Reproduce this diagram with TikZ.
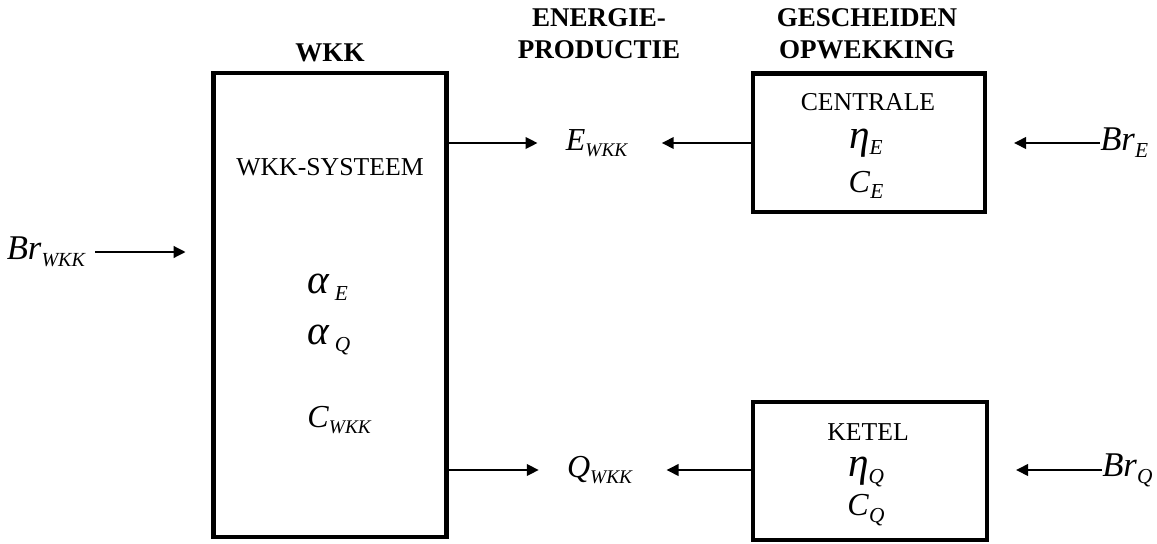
\documentclass[tikz,border=0pt]{standalone}
\usepackage{fontspec}
\setmainfont{Liberation Serif}
\usepackage{tikz}
\usetikzlibrary{arrows.meta,positioning,calc}
\newcommand{\qsym}[3][14.5]{\textit{#2}\raisebox{-0.45ex}{\fontsize{#1}{#1}\selectfont\textit{#3}}}
\newcommand{\gsym}[1]{{\fontsize{31}{31}\selectfont\textit{#1}}}

\begin{document}
\begin{tikzpicture}[x=0.75pt,y=-0.75pt,
    sysbox/.style={draw,line width=3.5pt,minimum width=174pt,minimum height=104pt,inner sep=0pt},
    head/.style={font=\bfseries\fontsize{20.3}{24}\selectfont,align=center},
    lbl/.style={font=\fontsize{19.3}{22}\selectfont,inner sep=0pt},
    var/.style={font=\fontsize{24}{26}\selectfont,inner sep=0pt},
    flow/.style={-{Triangle[length=9pt,width=8.5pt]},line width=2pt}]
  \useasboundingbox (0,0) rectangle (1157,543);
  % blokken
  \node[sysbox,minimum width=175pt,minimum height=348pt] (wkk) at (330,305) {};
  \node[sysbox] (centrale) at (869,142.5) {};
  \node[sysbox,minimum width=175.5pt,minimum height=103.5pt] (ketel) at (870,471) {};
  % koppen
  \node[head] (hwkk) at (330,53) {WKK};
  \node[head] (hprod) at (599,34) {ENERGIE-\\PRODUCTIE};
  \node[head] (hgesch) at (867,34) {GESCHEIDEN\\OPWEKKING};
  % inhoud WKK
  \node[lbl] (wkksys) at (330,167) {WKK-SYSTEEM};
  \node[var,anchor=west] (alphae) at (307,287) {\gsym{α}\,\qsym[16]{}{E}};
  \node[var,anchor=west] (alphaq) at (307,340) {\gsym{α}\,\qsym[16]{}{Q}};
  \node[var,anchor=west] (cwkk) at (307,420) {\qsym{C}{WKK}};
  % inhoud centrale en ketel
  \node[lbl] (centr) at (868,102) {CENTRALE};
  \node[var] (etae) at (866,143) {\gsym{η}\qsym[16]{}{E}};
  \node[var] (ce) at (866,185) {\qsym[16]{C}{E}};
  \node[lbl] (ket) at (868,432) {KETEL};
  \node[var] (etaq) at (866,472) {\gsym{η}\qsym[16]{}{Q}};
  \node[var] (cq) at (866,510) {\qsym[16]{C}{Q}};
  % energiestromen
  \node[var] (ewkk) at (597,143) {\qsym{E}{WKK}};
  \node[var] (qwkk) at (600,470) {\qsym{Q}{WKK}};
  \node[var,font=\fontsize{26}{27}\selectfont,anchor=east] (brwkk) at (86,252) {\qsym[15]{Br}{WKK}};
  \node[var,font=\fontsize{26}{27}\selectfont,anchor=west] (bre) at (1100,143) {\qsym[16]{Br}{E}};
  \node[var,font=\fontsize{26}{27}\selectfont,anchor=west] (brq) at (1102,470) {\qsym[16]{Br}{Q}};
  \draw[flow,shorten <=7pt,shorten >=19pt] (brwkk.east) -- (brwkk.east -| wkk.west);
  \draw[flow,shorten >=21pt] (wkk.east |- ewkk) -- (ewkk.west);
  \draw[flow,shorten >=25pt] (centrale.west |- ewkk) -- (ewkk.east);
  \draw[flow,shorten >=20pt] (bre.west) -- (bre.west -| centrale.east);
  \draw[flow,shorten >=21pt] (wkk.east |- qwkk) -- (qwkk.west);
  \draw[flow,shorten >=25pt] (ketel.west |- qwkk) -- (qwkk.east);
  \draw[flow,shorten >=20pt] (brq.west) -- (brq.west -| ketel.east);
\end{tikzpicture}
\end{document}
